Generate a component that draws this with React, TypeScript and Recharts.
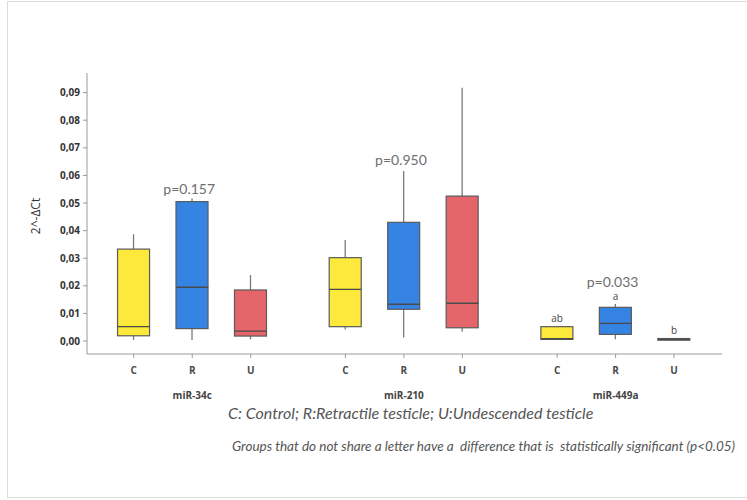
import React from "react";
import { ComposedChart, Bar, Scatter, XAxis, YAxis } from "recharts";

const groups = ["miR-34c", "miR-210", "miR-449a"];
const members = ["C", "R", "U"];
const xPos = [0, 1, 2, 3.62, 4.62, 5.62, 7.24, 8.24, 9.24];
const groupPos = [1, 4.62, 8.24];

const minVals = [0.0004, 0.0004, 0.0006, 0.0042, 0.0013, 0.0034, 0.0006, 0.0006, 0.0004];
const q1Vals = [0.0019, 0.0045, 0.0018, 0.0052, 0.0115, 0.0048, 0.0006, 0.0024, 0.0003];
const medVals = [0.0052, 0.0195, 0.0036, 0.0187, 0.0133, 0.0137, 0.0008, 0.0064, 0.0006];
const q3Vals = [0.0333, 0.0505, 0.0185, 0.0302, 0.043, 0.0525, 0.0052, 0.0122, 0.0009];
const maxVals = [0.0387, 0.0517, 0.0239, 0.0366, 0.0616, 0.0918, 0.0054, 0.0134, 0.0009];

const yTicks = [0, 0.01, 0.02, 0.03, 0.04, 0.05, 0.06, 0.07, 0.08, 0.09];

const pLabels = ["p=0.157", "p=0.950", "p=0.033"];
const pX = [1, 4.62, 8.24];
const pY = [0.0554, 0.0656, 0.0214];

const letterLabels = ["ab", "a", "b"];
const letterX = [7.24, 8.24, 9.24];
const letterY = [0.0083, 0.0163, 0.004];

const colors = ["#FDE93B", "#3584E4", "#E4666A"];

const data = xPos.map((x, i) => ({
  x,
  member: members[i % 3],
  min: minVals[i],
  q1: q1Vals[i],
  med: medVals[i],
  q3: q3Vals[i],
  max: maxVals[i],
}));

const pData = pX.map((x, i) => ({ x, y: pY[i], label: pLabels[i] }));
const letterData = letterX.map((x, i) => ({ x, y: letterY[i], label: letterLabels[i] }));

const BOX_W = 32;

const Whisker = (props: any) => {
  const { x, y, width, height } = props;
  const top = Math.min(y, y + height);
  const bot = Math.max(y, y + height);
  const cx = x + width / 2;
  return <line x1={cx} x2={cx} y1={top} y2={bot} stroke="#7a7a7a" strokeWidth={1.3} />;
};

const Box = (props: any) => {
  const { x, y, width, height, index } = props;
  const top = Math.min(y, y + height);
  const h = Math.max(Math.abs(height), 1);
  return (
    <rect
      x={x}
      y={top}
      width={width}
      height={h}
      fill={colors[index % 3]}
      stroke="#5a5a5a"
      strokeWidth={1.2}
    />
  );
};

const Median = (props: any) => {
  const { cx, cy } = props;
  return (
    <line x1={cx - BOX_W / 2} x2={cx + BOX_W / 2} y1={cy} y2={cy} stroke="#4a4a4a" strokeWidth={1.4} />
  );
};

const PText = (props: any) => {
  const { cx, cy, payload } = props;
  return (
    <text x={cx - 3} y={cy} textAnchor="middle" dominantBaseline="central" fill="#6e6e6e" fontSize={14} fontFamily="Lato, 'Noto Sans', sans-serif">
      {payload.label}
    </text>
  );
};

const LetterText = (props: any) => {
  const { cx, cy, payload } = props;
  return (
    <text x={cx} y={cy} textAnchor="middle" dominantBaseline="central" fill="#444" fontSize={10} fontFamily="'Open Sans', sans-serif">
      {payload.label}
    </text>
  );
};

export default function App() {
  return (
    <div style={{ position: "absolute", left: 0, top: 0, width: 747, height: 500, background: "#fff", fontFamily: "'Open Sans', sans-serif" }}>
      <div style={{ position: "absolute", left: 7, top: 1, width: 760, height: 495, border: "1px solid #dcdcdc" }} />
      <ComposedChart
        width={747}
        height={500}
        data={data}
        margin={{ top: 73, right: 25, bottom: 96, left: 20 }}
        barGap={-BOX_W}
        style={{ position: "absolute", left: 0, top: 0 }}
      >
        <XAxis
          dataKey="x"
          type="number"
          domain={[-0.8, 10.06]}
          ticks={xPos}
          interval={0}
          tickFormatter={(v: number) => members[xPos.indexOf(v) % 3]}
          stroke="#9a9a9a"
          tickSize={4}
          tickMargin={9}
          height={30}
          allowDataOverflow
          tick={{ fill: "#4a4a4a", fontSize: 10, fontWeight: 700, fontFamily: "'Open Sans', sans-serif" }}
        />
        <XAxis
          xAxisId="grp"
          dataKey="x"
          type="number"
          domain={[-0.8, 10.06]}
          ticks={groupPos}
          interval={0}
          tickFormatter={(v: number) => groups[groupPos.indexOf(v)]}
          axisLine={false}
          tickLine={false}
          tickSize={0}
          tickMargin={8}
          height={20}
          allowDataOverflow
          tick={{ fill: "#444", fontSize: 10, fontWeight: 700, fontFamily: "'Open Sans', sans-serif" }}
        />
        <YAxis
          type="number"
          domain={[-0.0047, 0.0971]}
          ticks={yTicks}
          interval={0}
          allowDataOverflow
          width={67}
          stroke="#9a9a9a"
          tickSize={4}
          tickMargin={3}
          tickFormatter={(v: number) => v.toFixed(2).replace(".", ",")}
          tick={{ fill: "#333", fontSize: 10, fontWeight: 700, fontFamily: "'Open Sans', sans-serif" }}
        />
        <Bar dataKey={(d: any) => [d.min, d.max]} barSize={BOX_W} shape={<Whisker />} isAnimationActive={false} />
        <Bar dataKey={(d: any) => [d.q1, d.q3]} barSize={BOX_W} shape={<Box />} isAnimationActive={false} />
        <Scatter dataKey="med" shape={<Median />} isAnimationActive={false} />
        <Scatter data={pData} dataKey="y" shape={<PText />} isAnimationActive={false} />
        <Scatter data={letterData} dataKey="y" shape={<LetterText />} isAnimationActive={false} />
      </ComposedChart>
      <div
        style={{
          position: "absolute",
          left: 35,
          top: 216,
          transform: "translate(-50%, -50%) rotate(-90deg)",
          fontSize: 12,
          color: "#333",
          whiteSpace: "nowrap",
          fontFamily: "'Open Sans', sans-serif",
        }}
      >
        2^-ΔCt
      </div>
      <div
        style={{
          position: "absolute",
          left: 228,
          top: 403,
          fontSize: 16,
          fontStyle: "italic",
          color: "#555",
          whiteSpace: "pre",
          fontFamily: "Lato, sans-serif",
        }}
      >
        C: Control; R:Retractile testicle; U:Undescended testicle
      </div>
      <div
        style={{
          position: "absolute",
          left: 232,
          top: 438,
          fontSize: 13.5,
          fontStyle: "italic",
          color: "#555",
          whiteSpace: "pre",
          fontFamily: "Lato, sans-serif",
        }}
      >
        {"Groups that do not share a letter have a  difference that is  statistically significant (p<0.05)"}
      </div>
    </div>
  );
}
